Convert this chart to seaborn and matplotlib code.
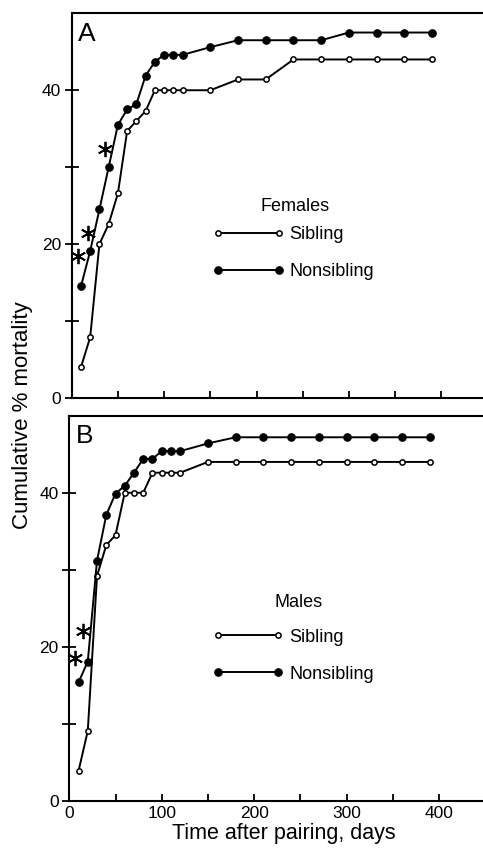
import numpy as np
import pandas as pd
import matplotlib
matplotlib.use("Agg")
import matplotlib.pyplot as plt
import seaborn as sns

# ---- data ----
days = [10, 20, 30, 40, 50, 60, 70, 80, 90, 100, 110, 120,
        150, 180, 210, 240, 270, 300, 330, 360, 390]
fem_sibling = [4.0, 7.9, 20.0, 22.6, 26.6, 34.7, 36.0, 37.3, 40.0, 40.0, 40.0, 40.0,
               40.0, 41.4, 41.4, 44.0, 44.0, 44.0, 44.0, 44.0, 44.0]
fem_nonsibling = [14.5, 19.1, 24.5, 30.0, 35.5, 37.5, 38.2, 41.9, 43.7, 44.6, 44.6, 44.6,
                  45.6, 46.5, 46.5, 46.5, 46.5, 47.5, 47.5, 47.5, 47.5]
male_sibling = [3.9, 9.1, 29.2, 33.2, 34.5, 40.0, 40.0, 40.0, 42.6, 42.6, 42.6, 42.6,
                44.0, 44.0, 44.0, 44.0, 44.0, 44.0, 44.0, 44.0, 44.0]
male_nonsibling = [15.4, 18.1, 31.2, 37.1, 39.9, 40.9, 42.6, 44.4, 44.4, 45.4, 45.4, 45.4,
                   46.4, 47.2, 47.2, 47.2, 47.2, 47.2, 47.2, 47.2, 47.2]
# significance asterisks
fem_sig_x = [7, 18, 36]
fem_sig_y = [18.4, 21.5, 32.3]
male_sig_x = [6, 15]
male_sig_y = [18.5, 22.1]

groups = ["Sibling", "Nonsibling"]
panel_titles = ["Females", "Males"]
panel_letters = ["A", "B"]
y_ticks = [0, 10, 20, 30, 40]
y_ticklabels = ["0", "", "20", "", "40"]
x_ticks = [0, 50, 100, 150, 200, 250, 300, 350, 400]
x_ticklabels = ["0", "", "100", "", "200", "", "300", "", "400"]

sns.set_theme(style="ticks")
plt.rcParams["font.family"] = ["Liberation Sans", "DejaVu Sans"]
for k in ["text.color", "axes.labelcolor", "xtick.color", "ytick.color",
          "axes.edgecolor"]:
    plt.rcParams[k] = "black"

W, H = 483, 852
fig = plt.figure(figsize=(W / 100, H / 100), dpi=100)

# axes rectangles in pixels: left, top, bottom
rects = [(71.7, 13.3, 398.0), (69.3, 415.7, 801.0)]
px_per_day = 0.924

panels = [
    (fem_sibling, fem_nonsibling, fem_sig_x, fem_sig_y),
    (male_sibling, male_nonsibling, male_sig_x, male_sig_y),
]
legend_centers = [(0.539, 0.376), (0.541, 0.377)]
title_pos = [(0.543, 0.497), (0.553, 0.515)]

for i, (sib, nonsib, sx, sy) in enumerate(panels):
    left, top, bottom = rects[i]
    ax = fig.add_axes([left / W, (H - bottom) / H, (W - left) / W, (bottom - top) / H])
    df = pd.DataFrame({
        "day": days * 2,
        "mortality": sib + nonsib,
        "group": [groups[0]] * len(days) + [groups[1]] * len(days),
    })
    sns.lineplot(data=df[df.group == "Sibling"], x="day", y="mortality", ax=ax,
                 color="black", linewidth=1.4, marker="o", markersize=3.8,
                 markerfacecolor="white", markeredgecolor="black",
                 markeredgewidth=1.1, label="Sibling", legend=False)
    sns.lineplot(data=df[df.group == "Nonsibling"], x="day", y="mortality", ax=ax,
                 color="black", linewidth=1.4, marker="o", markersize=5.4,
                 markerfacecolor="black", markeredgecolor="black",
                 markeredgewidth=0.8, label="Nonsibling", legend=False)
    ax.plot(sx, sy, linestyle="none", marker=(6, 2, 0), markersize=11,
            markeredgewidth=1.3, color="black")

    ax.set_xlim(0, (W - left) / px_per_day)
    ax.set_ylim(0, 50)
    ax.set_yticks(y_ticks)
    ax.set_yticklabels(y_ticklabels)
    ax.set_xticks(x_ticks)
    if i == 1:
        ax.set_xticklabels(x_ticklabels)
    else:
        ax.set_xticklabels([])
    ax.tick_params(axis="y", direction="inout", length=9.4, width=1.3, pad=3,
                   labelsize=12.5, colors="black")
    ax.tick_params(axis="x", direction="in", length=5, width=1.3, pad=3.5,
                   labelsize=12.5, colors="black")
    ax.set_xlabel("")
    ax.set_ylabel("")
    for s in ["left", "top", "bottom"]:
        ax.spines[s].set_visible(True)
        ax.spines[s].set_linewidth(1.5)
        ax.spines[s].set_color("black")
    ax.spines["right"].set_visible(False)

    ax.text(0.016, 0.978, panel_letters[i], transform=ax.transAxes,
            ha="left", va="top", fontsize=19, color="black")

    handles = ax.get_lines()[:2]
    ax.legend(handles=handles, labels=groups,
              loc="center", bbox_to_anchor=legend_centers[i],
              frameon=False, numpoints=2, handlelength=3.95,
              handletextpad=0.3, labelspacing=1.1, borderpad=0.0,
              fontsize=13, labelcolor="black")
    ax.text(title_pos[i][0], title_pos[i][1], panel_titles[i],
            transform=ax.transAxes, ha="center", va="center",
            fontsize=13, color="black")

fig.text(22.5 / W, 1 - 415 / H, "Cumulative % mortality", rotation=90,
         ha="center", va="center", fontsize=16, color="black")
fig.text(283.5 / W, 1 - 834 / H, "Time after pairing, days",
         ha="center", va="center", fontsize=15.5, color="black")

fig.savefig("out.png", dpi=100)
